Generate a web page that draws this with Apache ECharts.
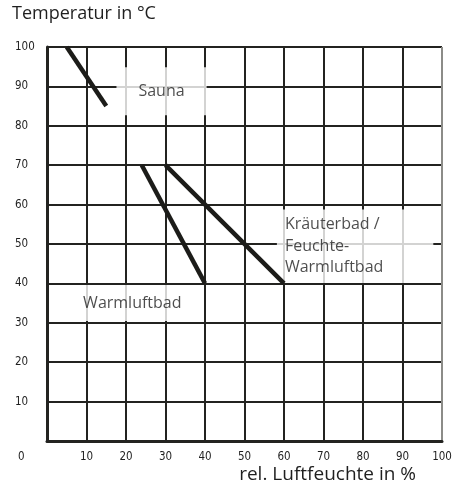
<!DOCTYPE html>
<html>
<head>
<meta charset="utf-8">
<script src="https://cdn.jsdelivr.net/npm/echarts@6/dist/echarts.min.js"></script>
<style>
  html, body { margin: 0; padding: 0; background: #fff; }
  #chart { width: 455px; height: 487px; }
</style>
</head>
<body>
<div id="chart"></div>
<script>
// Comfort ranges: temperature (°C) against relative humidity (%)
const humidityTicks = [0, 10, 20, 30, 40, 50, 60, 70, 80, 90, 100];
const temperatureTicks = [0, 10, 20, 30, 40, 50, 60, 70, 80, 90, 100];

// Each bath type as a line from its upper to its lower end [humidity, temperature]
const saunaLine = [[5, 100], [15, 85]];
const warmluftbadLine = [[24, 70], [40, 40]];
const kraeuterbadLine = [[30, 70], [60, 40]];

// Zone captions and where they sit [humidity, temperature]
const zoneNames = ['Sauna', 'Warmluftbad', 'Kräuterbad /\nFeuchte-\nWarmluftbad'];
const zoneAnchors = [[29.0, 88.8], [21.6, 35], [58.2, 49.4]];

const ink = '#232320';
const textColor = '#1f1f1f';
const tickFont = '"Liberation Sans Narrow", "DejaVu Sans Condensed", sans-serif';
const textFont = '"Open Sans", "Noto Sans", sans-serif';

const zoneLabelStyles = [
  { align: 'center', verticalAlign: 'middle', padding: [14, 22, 14, 22], lineHeight: 20 },
  { align: 'center', verticalAlign: 'middle', padding: [10, 21, 6, 21], lineHeight: 20 },
  { align: 'left', verticalAlign: 'middle', padding: [5, 50, 4, 8], lineHeight: 21.5 }
];

function lineSeries(points) {
  return {
    type: 'line',
    data: points,
    z: 5,
    symbol: 'none',
    silent: true,
    lineStyle: { color: '#1c1c19', width: 4.5, cap: 'butt' }
  };
}

const chart = echarts.init(document.getElementById('chart'), null, { renderer: 'canvas' });

chart.setOption({
  animation: false,
  backgroundColor: '#ffffff',
  title: {
    text: 'Temperatur in °C',
    left: 7,
    top: 0,
    textStyle: { fontFamily: textFont, fontSize: 18, fontWeight: 'normal', color: textColor }
  },
  grid: { left: 47, right: 13, top: 47, bottom: 46, containLabel: false, outerBoundsMode: 'none' },
  xAxis: {
    type: 'value',
    min: humidityTicks[0],
    max: humidityTicks[humidityTicks.length - 1],
    interval: 10,
    name: 'rel. Luftfeuchte in %',
    nameLocation: 'end',
    nameGap: -26,
    nameMoveOverlap: false,
    nameTextStyle: {
      fontFamily: textFont, fontSize: 19, color: textColor,
      align: 'right', verticalAlign: 'top', padding: [24, 0, 0, 0]
    },
    axisLine: { show: true, onZero: false, lineStyle: { color: ink, width: 3 } },
    axisTick: { show: false },
    axisLabel: {
      showMinLabel: false,
      margin: 10,
      fontFamily: tickFont, fontSize: 11.5, color: textColor,
      formatter: (v) => humidityTicks.includes(v) ? String(v) : ''
    },
    splitLine: {
      show: true,
      lineStyle: {
        width: 2,
        color: [ink, ink, ink, ink, ink, ink, ink, ink, ink, ink, '#8c8c88']
      }
    }
  },
  yAxis: {
    type: 'value',
    min: temperatureTicks[0],
    max: temperatureTicks[temperatureTicks.length - 1],
    interval: 10,
    axisLine: { show: true, onZero: false, lineStyle: { color: ink, width: 3 } },
    axisTick: { show: false },
    axisLabel: {
      align: 'left',
      margin: 32,
      fontFamily: tickFont, fontSize: 11.5, color: textColor,
      formatter: (v) => v === 0 ? '{z|0}' : (temperatureTicks.includes(v) ? String(v) : ''),
      rich: {
        z: { fontFamily: tickFont, fontSize: 11.5, color: textColor, padding: [32, 0, 0, 3] }
      }
    },
    splitLine: { show: true, lineStyle: { color: ink, width: 2 } }
  },
  series: [
    lineSeries(saunaLine),
    lineSeries(warmluftbadLine),
    lineSeries(kraeuterbadLine),
    {
      type: 'scatter',
      z: 3,
      silent: true,
      symbolSize: 0,
      data: zoneNames.map((name, i) => ({
        value: zoneAnchors[i],
        label: Object.assign({
          show: true,
          position: 'inside',
          formatter: name,
          backgroundColor: '#ffffff',
          fontFamily: textFont,
          fontSize: 16,
          color: textColor
        }, zoneLabelStyles[i])
      }))
    }
  ]
});
</script>
</body>
</html>
